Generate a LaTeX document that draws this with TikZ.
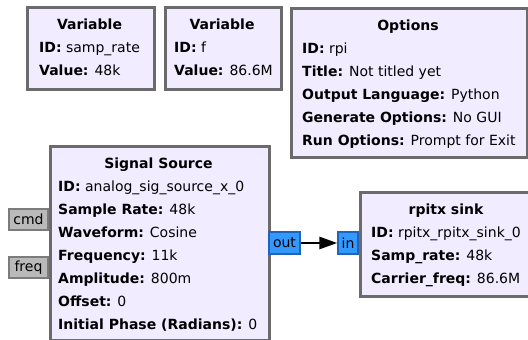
\documentclass[tikz,border=0pt]{standalone}
\usepackage{fontspec}
\setmainfont{DejaVu Sans}
\usetikzlibrary{arrows.meta}
\definecolor{blockfill}{HTML}{F1ECFF}
\definecolor{blockedge}{HTML}{6B6B6B}
\definecolor{msgfill}{HTML}{BABABA}
\definecolor{msgedge}{HTML}{7C7C7C}
\definecolor{strfill}{HTML}{3399FF}
\definecolor{stredge}{HTML}{1F64B8}
\begin{document}
\begin{tikzpicture}[x=1pt,y=-1pt,
  block/.style={draw=blockedge,line width=2.5pt,fill=blockfill,inner sep=0pt,anchor=north west},
  lbl/.style={inner sep=0pt,font=\fontsize{14}{16}\selectfont,text height=10.2pt,text depth=0pt,anchor=west},
  ttl/.style={lbl,anchor=center,font=\fontsize{14}{16}\selectfont\bfseries},
  msgport/.style={draw=msgedge,line width=1.4pt,fill=msgfill,inner sep=0pt,minimum width=39pt,minimum height=21pt,font=\fontsize{14}{16}\selectfont},
  strport/.style={draw=stredge,line width=1.4pt,fill=strfill,inner sep=0pt,minimum height=22pt,font=\fontsize{14}{16}\selectfont},
  flow/.style={line width=2.8pt,-{Triangle[length=18pt,width=12pt]}}]
\useasboundingbox (0,0) rectangle (528,340);

% variable blocks
\node[block,minimum width=127pt,minimum height=82pt] (var1) at (26,6) {};
\node[ttl] (var1t) at (89.5,24.5) {Variable};
\node[lbl] (var1a) at (39,47.5) {\textbf{ID:} samp\_rate};
\node[lbl] (var1b) at (39,70.5) {\textbf{Value:} 48k};

\node[block,minimum width=116pt,minimum height=82pt] (var2) at (164,6) {};
\node[ttl] (var2t) at (222,24.5) {Variable};
\node[lbl] (var2a) at (174,47.5) {\textbf{ID:} f};
\node[lbl] (var2b) at (174,70.5) {\textbf{Value:} 86.6M};

% options block
\node[block,minimum width=236pt,minimum height=149pt] (opts) at (290,7) {};
\node[ttl] (optst) at (408,25) {Options};
\node[lbl] (optsa) at (302,48) {\textbf{ID:} rpi};
\node[lbl] (optsb) at (302,71) {\textbf{Title:} Not titled yet};
\node[lbl] (optsc) at (302,94) {\textbf{Output Language:} Python};
\node[lbl] (optsd) at (302,117) {\textbf{Generate Options:} No GUI};
\node[lbl] (optse) at (302,140) {\textbf{Run Options:} Prompt for Exit};

% signal source block
\node[block,minimum width=219pt,minimum height=194pt] (src) at (49,145) {};
\node[ttl] (srct) at (158.5,163) {Signal Source};
\node[lbl] (srca) at (58,186.5) {\textbf{ID:} analog\_sig\_source\_x\_0};
\node[lbl] (srcb) at (58,209.5) {\textbf{Sample Rate:} 48k};
\node[lbl] (srcc) at (58,232.5) {\textbf{Waveform:} Cosine};
\node[lbl] (srcd) at (58,255.5) {\textbf{Frequency:} 11k};
\node[lbl] (srce) at (58,278.5) {\textbf{Amplitude:} 800m};
\node[lbl] (srcf) at (58,301.5) {\textbf{Offset:} 0};
\node[lbl] (srcg) at (58,324.5) {\textbf{Initial Phase (Radians):} 0};

% sink block
\node[block,minimum width=174pt,minimum height=104pt] (sink) at (359,191) {};
\node[ttl] (sinkt) at (446,209) {rpitx sink};
\node[lbl] (sinka) at (371,232) {\textbf{ID:} rpitx\_rpitx\_sink\_0};
\node[lbl] (sinkb) at (371,255.5) {\textbf{Samp\_rate:} 48k};
\node[lbl] (sinkc) at (371,278) {\textbf{Carrier\_freq:} 86.6M};

% ports
\node[msgport] (cmd) at (28.5,219.5) {cmd};
\node[msgport] (freq) at (28.5,267.5) {freq};
\node[strport,minimum width=31pt] (out) at (284.5,243) {out};
\node[strport,minimum width=20pt] (in) at (348,243) {in};

% connection
\draw[flow] (out.east) -- (in.west);
\end{tikzpicture}
\end{document}
